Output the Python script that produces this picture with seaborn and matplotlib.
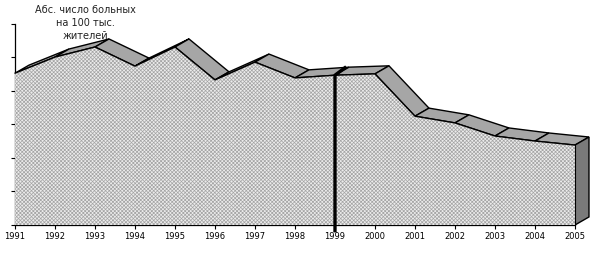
import matplotlib
matplotlib.use("Agg")
import matplotlib.pyplot as plt
import seaborn as sns
import numpy as np
import pandas as pd

years = [1991, 1992, 1993, 1994, 1995, 1996, 1997, 1998, 1999, 2000, 2001, 2002, 2003, 2004, 2005]
values = [45.2, 50.0, 53.0, 47.3, 53.0, 43.2, 48.5, 43.8, 44.6, 45.0, 32.4, 30.4, 26.5, 25.0, 23.8]
title_text = "Абс. число больных\nна 100 тыс.\nжителей"
marker_year = 1999

sns.set_style("ticks")
plt.rcParams['font.family'] = ['DejaVu Sans']
plt.rcParams['hatch.linewidth'] = 0.5

df = pd.DataFrame({"year": years, "value": values})

fig = plt.figure(figsize=(6, 2.6), dpi=100)
ax = fig.add_axes([0.025, 0.1346, 0.9333, 0.775])

# depth offset of the 3D look (in data units)
dx, dy = 0.35, 2.4

x = np.array(years, dtype=float)
y = np.array(values, dtype=float)

# top faces
for i in range(len(x) - 1):
    px = [x[i], x[i + 1], x[i + 1] + dx, x[i] + dx]
    py = [y[i], y[i + 1], y[i + 1] + dy, y[i] + dy]
    ax.fill(px, py, facecolor="#a6a6a6", edgecolor="black", linewidth=1.0,
            clip_on=False, zorder=2)

# right side face
ax.fill([x[-1], x[-1] + dx, x[-1] + dx, x[-1]],
        [y[-1], y[-1] + dy, dy, 0],
        facecolor="#7a7a7a", edgecolor="black", linewidth=1.0, clip_on=False, zorder=2)

# front face
ax.fill_between(x, 0, y, facecolor="#ececec", edgecolor="#a4a4a4", hatch="xxxxxxxxx",
                linewidth=0, zorder=3, clip_on=False)
sns.lineplot(data=df, x="year", y="value", color="black", linewidth=1.0, ax=ax,
             zorder=4, clip_on=False)
ax.plot([x[-1], x[-1]], [0, y[-1]], color="black", linewidth=0.8, zorder=4, clip_on=False)

# thick marker line at 1999
vi = years.index(marker_year)
ax.plot([marker_year, marker_year, marker_year + dx * 0.8],
        [-2.2, y[vi], y[vi] + dy * 0.8 + 0.6], color="black", linewidth=2.4,
        solid_capstyle="butt", zorder=5, clip_on=False)

ax.set_xlim(1991, 2005)
ax.set_ylim(0, 60)
ax.set_xticks(years)
ax.set_xticklabels([str(v) for v in years], fontsize=6)
ax.set_yticks(np.arange(0, 61, 10))
ax.set_yticklabels([])
ax.tick_params(axis="x", length=3, width=0.8, pad=2, colors="black")
ax.tick_params(axis="y", length=3, width=0.8, colors="black")
ax.set_xlabel("")
ax.set_ylabel("")
sns.despine(ax=ax, top=True, right=True)
ax.spines["left"].set_color("black")
ax.spines["bottom"].set_color("black")
ax.spines["left"].set_linewidth(0.9)
ax.spines["bottom"].set_linewidth(0.9)
ax.patch.set_alpha(0)

fig.text(85 / 600, 1 - 5 / 260, title_text, ha="center", va="top", fontsize=7,
         linespacing=1.35, color="#222222")

fig.savefig("out.png", dpi=100)
